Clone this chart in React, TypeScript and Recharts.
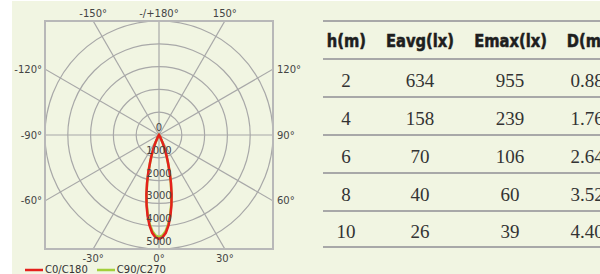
import { RadarChart, Radar, PolarGrid, PolarAngleAxis, PolarRadiusAxis, Legend } from "recharts";

// polar curve (cd), angles in degrees, 0° pointing down
const ANGLES = [-40, -35, -30, -25, -22, -20, -18, -16, -14, -12, -10, -8, -6, -4, -2, 0, 2, 4, 6, 8, 10, 12, 14, 16, 18, 20, 22, 25, 30, 35, 40];
const C0_C180 = [0, 20, 110, 380, 680, 950, 1270, 1700, 2170, 2660, 3140, 3590, 3990, 4300, 4490, 4560, 4490, 4300, 3990, 3590, 3140, 2660, 2170, 1700, 1270, 950, 680, 380, 110, 20, 0];
const C90_C270 = [0, 20, 100, 370, 660, 930, 1250, 1680, 2140, 2620, 3090, 3530, 3920, 4220, 4410, 4480, 4410, 4220, 3920, 3530, 3090, 2620, 2140, 1680, 1250, 930, 660, 370, 100, 20, 0];

const ANGLE_TICKS = [-180, -150, -120, -90, -60, -30, 0, 30, 60, 90, 120, 150];
const RADIUS_TICKS = [0, 1000, 2000, 3000, 4000, 5000];

// table
const HEADERS = ["h(m)", "Eavg(lx)", "Emax(lx)", "D(m)"];
const HEIGHTS = ["2", "4", "6", "8", "10"];
const EAVG = ["634", "158", "70", "40", "26"];
const EMAX = ["955", "239", "106", "60", "39"];
const DIAMETER = ["0.88", "1.76", "2.64", "3.52", "4.40"];

const polarData = ANGLES.map((angle, i) => ({ angle, c0: C0_C180[i], c90: C90_C270[i] }));
const tableRows = HEIGHTS.map((h, i) => [h, EAVG[i], EMAX[i], DIAMETER[i]]);

const BG = "#f1f5e2";
const RED = "#e4211c";
const GREEN = "#a3cf3a";
const CX = 159;
const CY = 135;
const R = 114; // radius of the 5000 ring, half side of the frame
const RMAX = 5000;
const LABEL_FONT = "'DejaVu Sans', Verdana, sans-serif";
const NO_MARGIN = { top: 0, right: 0, bottom: 0, left: 0 };

const COL_WIDTHS = [46, 102, 78, 76];

function angleLabel(v: number) {
  return Math.abs(v) === 180 ? "-/+180°" : `${v}°`;
}

// put the angle labels just outside the square frame
function renderAngleTick(props: any) {
  const v = props.payload.value;
  const rad = (v * Math.PI) / 180;
  const dx = Math.sin(rad);
  const dy = Math.cos(rad);
  const m = Math.max(Math.abs(dx), Math.abs(dy));
  const ex = CX + (R * dx) / m;
  const ey = CY + (R * dy) / m;
  const onSide = Math.abs(dx) >= Math.abs(dy) - 1e-6;
  const x = onSide ? ex + (dx > 0 ? 4 : -3) : ex;
  const y = onSide ? ey : ey + (dy < 0 ? -8 : 9);
  const anchor = onSide ? (dx > 0 ? "start" : "end") : "middle";
  return (
    <text x={x} y={y} textAnchor={anchor} dominantBaseline="central" fontSize={10} fontFamily={LABEL_FONT} fill="#444">
      {angleLabel(v)}
    </text>
  );
}

function renderRadiusTick(props: any) {
  const { x, y, payload } = props;
  return (
    <text x={x} y={y - 4} textAnchor="middle" fontSize={10} fontFamily={LABEL_FONT} fill="#444">
      {payload.value}
    </text>
  );
}

function renderLegend(props: any) {
  const { payload } = props;
  return (
    <div style={{ display: "flex", alignItems: "center", fontFamily: LABEL_FONT, fontSize: 10, lineHeight: "12px", color: "#333" }}>
      {payload.map((entry: any) => (
        <div key={entry.value} style={{ display: "flex", alignItems: "center", marginRight: 9 }}>
          <svg width={18} height={4} style={{ display: "block" }}>
            <line x1={0} y1={2} x2={18} y2={2} stroke={entry.color ?? entry.payload?.stroke} strokeWidth={2.5} />
          </svg>
          <span style={{ marginLeft: 2 }}>{entry.value}</span>
        </div>
      ))}
    </div>
  );
}

// grid only, in a box the size of the square frame so the spokes stop at its edges
function PolarGridBox() {
  return (
    <div style={{ position: "absolute", left: CX - R, top: CY - R, width: 2 * R, height: 2 * R, overflow: "hidden" }}>
      <RadarChart
        width={2 * R}
        height={2 * R}
        data={polarData}
        cx={R}
        cy={R}
        outerRadius={R * Math.SQRT2}
        startAngle={-270}
        endAngle={90}
        margin={NO_MARGIN}
      >
        <PolarGrid gridType="circle" stroke="#a8a8a8" strokeWidth={1.2} />
        <PolarAngleAxis dataKey="angle" type="number" domain={[-180, 180]} ticks={ANGLE_TICKS} tick={false} axisLine={false} tickLine={false} />
        <PolarRadiusAxis angle={-90} type="number" domain={[0, RMAX * Math.SQRT2]} allowDataOverflow ticks={RADIUS_TICKS} tick={false} axisLine={false} tickLine={false} />
      </RadarChart>
    </div>
  );
}

function PolarPlot() {
  return (
    <RadarChart
      width={320}
      height={274}
      data={polarData}
      cx={CX}
      cy={CY}
      outerRadius={R * Math.SQRT2}
      startAngle={-270}
      endAngle={90}
      margin={NO_MARGIN}
    >
      <rect x={CX - R} y={CY - R} width={2 * R} height={2 * R} fill="none" stroke="#b8b8b8" strokeWidth={2} />
      <PolarAngleAxis
        dataKey="angle"
        type="number"
        domain={[-180, 180]}
        ticks={ANGLE_TICKS}
        tick={renderAngleTick}
        axisLine={false}
        tickLine={false}
      />
      <PolarRadiusAxis
        angle={-90}
        type="number"
        domain={[0, RMAX * Math.SQRT2]}
        allowDataOverflow
        ticks={RADIUS_TICKS}
        tick={renderRadiusTick}
        axisLine={false}
        tickLine={false}
      />
      <Radar name="C90/C270" dataKey="c90" stroke={GREEN} strokeWidth={2.5} fill="none" fillOpacity={0} dot={false} isAnimationActive={false} />
      <Radar name="C0/C180" dataKey="c0" stroke={RED} strokeWidth={2.5} fill="none" fillOpacity={0} dot={false} isAnimationActive={false} />
      <Legend content={renderLegend} wrapperStyle={{ position: "absolute", left: 25, top: 264, width: "auto" }} />
    </RadarChart>
  );
}

function LuxTable() {
  const lineStyle = "2px solid #a8a8a8";
  return (
    <div style={{ position: "absolute", left: 323, top: 20, width: 302 }}>
      <div
        style={{
          display: "flex",
          height: 38,
          boxSizing: "border-box",
          borderTop: lineStyle,
          alignItems: "center",
          fontFamily: "'DejaVu Sans', sans-serif",
          fontWeight: "bold",
          fontSize: 16,
          color: "#1e1e1e",
        }}
      >
        {HEADERS.map((h, i) => (
          <div key={h} style={{ width: COL_WIDTHS[i], textAlign: "center", whiteSpace: "nowrap" }}>
            <span style={{ display: "inline-block", transform: "scale(0.92, 1.15)", WebkitTextStroke: "0.5px #1e1e1e" }}>{h}</span>
          </div>
        ))}
      </div>
      {tableRows.map((row, r) => (
        <div
          key={r}
          style={{
            display: "flex",
            height: 38,
            boxSizing: "border-box",
            borderTop: lineStyle,
            borderBottom: r === tableRows.length - 1 ? lineStyle : undefined,
            alignItems: "center",
            paddingTop: 5,
            fontFamily: "'Liberation Serif', 'Times New Roman', serif",
            fontSize: 19,
            color: "#333",
          }}
        >
          {row.map((cell, i) => (
            <div key={i} style={{ width: COL_WIDTHS[i], textAlign: "center", whiteSpace: "nowrap" }}>
              {cell}
            </div>
          ))}
        </div>
      ))}
    </div>
  );
}

export default function App() {
  return (
    <div style={{ position: "absolute", left: 0, top: 0, width: 600, height: 274, background: "#fff", overflow: "hidden" }}>
      <div style={{ position: "absolute", left: 12, top: 1, right: 0, bottom: 0, background: BG }} />
      <PolarGridBox />
      <div style={{ position: "absolute", left: 0, top: 0 }}>
        <PolarPlot />
      </div>
      <LuxTable />
    </div>
  );
}
